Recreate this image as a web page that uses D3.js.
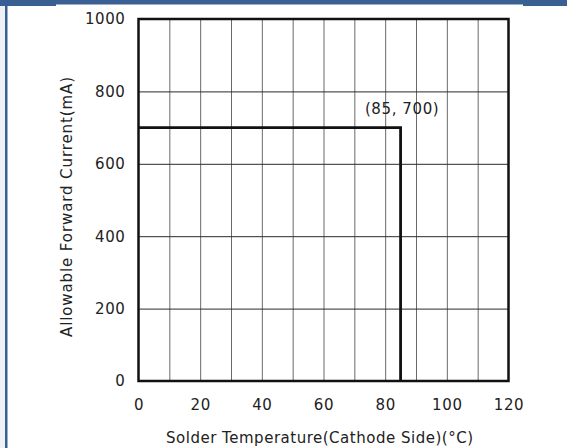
<!DOCTYPE html>
<html>
<head>
<meta charset="utf-8">
<script src="https://cdn.jsdelivr.net/npm/d3@7"></script>
<style>
  html, body { margin: 0; padding: 0; background: #ffffff; }
  svg { display: block; }
  text { font-family: "DejaVu Sans", Verdana, sans-serif; fill: #222; }
</style>
</head>
<body>
<svg id="chart" width="567" height="448"></svg>
<script>
// ---- data ----
const seriesX = [0, 85, 85];
const seriesY = [700, 700, 0];
const xTickLabels = [0, 20, 40, 60, 80, 100, 120];
const xGridValues = [10, 20, 30, 40, 50, 60, 70, 80, 90, 100, 110];
const yTickLabels = [0, 200, 400, 600, 800, 1000];
const yGridValues = [200, 400, 600, 800];
const xTitle = "Solder Temperature(Cathode Side)(°C)";
const yTitle = "Allowable Forward Current(mA)";
const annotationText = "(85, 700)";
const annotationPoint = [85, 700];

// ---- layout ----
const W = 567, H = 448;
const L = 138.5, R = 508.5, T = 19, B = 381;
const svg = d3.select("#chart");

// frame decoration (blue border)
const blue = "#3a5f93";
svg.append("rect").attr("x", 0).attr("y", 0).attr("width", 5).attr("height", H).attr("fill", "#eef1f6");
svg.append("rect").attr("x", 0).attr("y", 0).attr("width", 56).attr("height", 6).attr("fill", blue);
svg.append("rect").attr("x", 56).attr("y", 0).attr("width", 467).attr("height", 4.5).attr("fill", blue);
svg.append("rect").attr("x", 523).attr("y", 0).attr("width", 44).attr("height", 6).attr("fill", blue);
svg.append("rect").attr("x", 5).attr("y", 0).attr("width", 2.5).attr("height", H).attr("fill", blue);

const x = d3.scaleLinear().domain([0, 120]).range([L, R]);
const y = d3.scaleLinear().domain([0, 1000]).range([B, T]);

// grid
const vGrid = svg.append("g").attr("transform", `translate(0,${B})`)
  .call(d3.axisBottom(x).tickValues(xGridValues).tickSize(-(B - T)).tickFormat(""));
vGrid.select(".domain").remove();
vGrid.selectAll("line").attr("stroke", "#6a6a6a").attr("stroke-width", 1);

const hGrid = svg.append("g").attr("transform", `translate(${L},0)`)
  .call(d3.axisLeft(y).tickValues(yGridValues).tickSize(-(R - L)).tickFormat(""));
hGrid.select(".domain").remove();
hGrid.selectAll("line").attr("stroke", "#2a2a2a").attr("stroke-width", 1);

// tick labels
const fmt = d3.format("d");
const xAxis = svg.append("g").attr("transform", `translate(0,${B})`)
  .call(d3.axisBottom(x).tickValues(xTickLabels).tickFormat(fmt).tickSize(0).tickPadding(18.5));
xAxis.select(".domain").remove();
xAxis.selectAll("text").attr("font-size", "15px").attr("letter-spacing", "0.6px")
  .attr("fill", "#222").attr("font-family", "DejaVu Sans, Verdana, sans-serif");

const yAxis = svg.append("g").attr("transform", `translate(${L},0)`)
  .call(d3.axisLeft(y).tickValues(yTickLabels).tickFormat(fmt).tickSize(0).tickPadding(13));
yAxis.select(".domain").remove();
yAxis.selectAll("text").attr("font-size", "15px").attr("letter-spacing", "0.6px")
  .attr("fill", "#222").attr("font-family", "DejaVu Sans, Verdana, sans-serif");

// plot border
svg.append("rect").attr("x", L).attr("y", T).attr("width", R - L).attr("height", B - T)
  .attr("fill", "none").attr("stroke", "#111").attr("stroke-width", 2.5);

// data line
const pts = seriesX.map((v, i) => [v, seriesY[i]]);
svg.append("path").datum(pts)
  .attr("d", d3.line().x(d => x(d[0])).y(d => y(d[1])))
  .attr("fill", "none").attr("stroke", "#111").attr("stroke-width", 2.8);

// annotation
svg.append("text")
  .attr("x", x(annotationPoint[0]) + 1.5).attr("y", y(annotationPoint[1]) - 14)
  .attr("text-anchor", "middle").attr("font-size", "15px").attr("letter-spacing", "0.6px")
  .text(annotationText);

// axis titles
svg.append("text")
  .attr("x", 319.5).attr("y", 443.3)
  .attr("text-anchor", "middle").attr("font-size", "15px")
  .attr("textLength", 307).attr("lengthAdjust", "spacing")
  .text(xTitle);

svg.append("text")
  .attr("transform", "translate(72.3,207) rotate(-90)")
  .attr("text-anchor", "middle").attr("font-size", "15px")
  .attr("textLength", 260).attr("lengthAdjust", "spacing")
  .text(yTitle);
</script>
</body>
</html>
